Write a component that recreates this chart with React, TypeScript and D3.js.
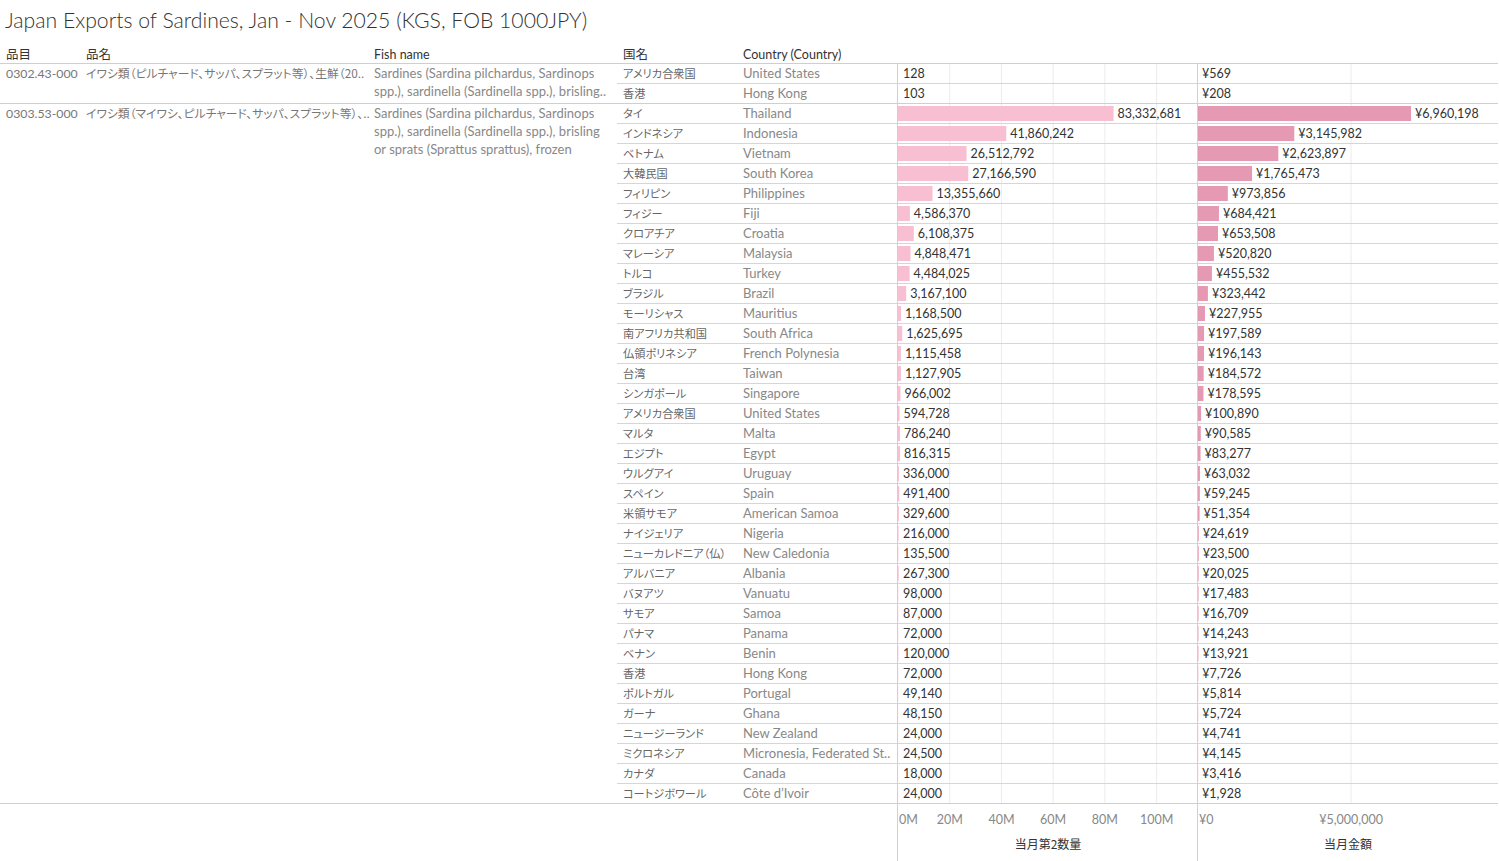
import React from "react";
import * as d3 from "d3";

const TITLE = "Japan Exports of Sardines, Jan - Nov 2025 (KGS, FOB 1000JPY)";
const HEADERS = ["品目", "品名", "Fish name", "国名", "Country (Country)"];

const hsCodes = ["0302.43-000", "0303.53-000"];
const productNames = [
  "イワシ類（ピルチャード、サッパ、スプラット等）、生鮮（20..",
  "イワシ類（マイワシ、ピルチャード、サッパ、スプラット等）、..",
];
const fishNames = [
  ["Sardines (Sardina pilchardus, Sardinops", "spp.), sardinella (Sardinella spp.), brisling.."],
  ["Sardines (Sardina pilchardus, Sardinops", "spp.), sardinella (Sardinella spp.), brisling", "or sprats (Sprattus sprattus), frozen"],
];
const groupSizes = [2, 35];

const countriesJa = [
  "アメリカ合衆国", "香港",
  "タイ", "インドネシア", "ベトナム", "大韓民国", "フィリピン", "フィジー", "クロアチア", "マレーシア", "トルコ", "ブラジル",
  "モーリシャス", "南アフリカ共和国", "仏領ポリネシア", "台湾", "シンガポール", "アメリカ合衆国", "マルタ", "エジプト", "ウルグアイ", "スペイン",
  "米領サモア", "ナイジェリア", "ニューカレドニア（仏）", "アルバニア", "バヌアツ", "サモア", "パナマ", "ベナン", "香港", "ポルトガル",
  "ガーナ", "ニュージーランド", "ミクロネシア", "カナダ", "コートジボワール",
];
const countriesEn = [
  "United States", "Hong Kong",
  "Thailand", "Indonesia", "Vietnam", "South Korea", "Philippines", "Fiji", "Croatia", "Malaysia", "Turkey", "Brazil",
  "Mauritius", "South Africa", "French Polynesia", "Taiwan", "Singapore", "United States", "Malta", "Egypt", "Uruguay", "Spain",
  "American Samoa", "Nigeria", "New Caledonia", "Albania", "Vanuatu", "Samoa", "Panama", "Benin", "Hong Kong", "Portugal",
  "Ghana", "New Zealand", "Micronesia, Federated St..", "Canada", "Côte d’Ivoir",
];
const quantities = [
  128, 103,
  83332681, 41860242, 26512792, 27166590, 13355660, 4586370, 6108375, 4848471, 4484025, 3167100,
  1168500, 1625695, 1115458, 1127905, 966002, 594728, 786240, 816315, 336000, 491400,
  329600, 216000, 135500, 267300, 98000, 87000, 72000, 120000, 72000, 49140,
  48150, 24000, 24500, 18000, 24000,
];
const values = [
  569, 208,
  6960198, 3145982, 2623897, 1765473, 973856, 684421, 653508, 520820, 455532, 323442,
  227955, 197589, 196143, 184572, 178595, 100890, 90585, 83277, 63032, 59245,
  51354, 24619, 23500, 20025, 17483, 16709, 14243, 13921, 7726, 5814,
  5724, 4741, 4145, 3416, 1928,
];
const qtyTicks = [0, 20e6, 40e6, 60e6, 80e6, 100e6];
const qtyTickLabels = ["0M", "20M", "40M", "60M", "80M", "100M"];
const valTicks = [0, 5e6];
const valTickLabels = ["¥0", "¥5,000,000"];
const axisTitles = ["当月第2数量", "当月金額"];

const FONT = "Lato, 'Noto Sans CJK JP', sans-serif";
const JFONT = "'Noto Sans CJK JP', Lato, sans-serif";

export default function App() {
  const W = 1499, H = 861;
  const top = 63, rowH = 20;
  const n = quantities.length;
  const y = d3.scaleBand<number>().domain(d3.range(n)).range([top, top + n * rowH]).padding(0);
  const bottom = top + n * rowH;
  const xq = d3.scaleLinear().domain([0, 116e6]).range([898, 1198]);
  const xv = d3.scaleLinear().domain([0, 9.8e6]).range([1198, 1498]);
  const fmt = d3.format(",");
  const groupStarts = groupSizes.map((_, i) => d3.sum(groupSizes.slice(0, i)));

  const palt: React.CSSProperties = { fontFeatureSettings: "'palt'" };

  return (
    <div style={{ position: "fixed", left: 0, top: 0, background: "#fff" }}>
      <svg width={W} height={H} style={{ display: "block" }}>
        <rect width={W} height={H} fill="#fff" />
        <text x={5} y={28} fontFamily={FONT} fontSize={21.2} fontWeight={300} fill="#333">{TITLE}</text>

        {/* headers */}
        {[6, 86, 374, 623, 743].map((x, i) => (
          <text key={i} x={x} y={59} fontFamily={i === 2 || i === 4 ? FONT : JFONT} fontSize={12.5} fill="#333" style={palt}>{HEADERS[i]}</text>
        ))}

        {/* gridlines */}
        {qtyTicks.slice(1).map((t, i) => (
          <line key={"gq" + i} x1={xq(t)} x2={xq(t)} y1={top} y2={bottom} stroke="#ececec" />
        ))}
        {valTicks.slice(1).map((t, i) => (
          <line key={"gv" + i} x1={xv(t)} x2={xv(t)} y1={top} y2={bottom} stroke="#ececec" />
        ))}

        {/* row lines */}
        {d3.range(n).map((i) => (
          <line key={"r" + i} x1={617} x2={1498} y1={(y(i) as number) + 0.5} y2={(y(i) as number) + 0.5} stroke="#d6d6d6" />
        ))}
        {groupStarts.map((s, i) => (
          <line key={"gs" + i} x1={0} x2={1498} y1={(y(s) as number) + 0.5} y2={(y(s) as number) + 0.5} stroke="#cfcfcf" />
        ))}
        <line x1={0} x2={1498} y1={bottom + 0.5} y2={bottom + 0.5} stroke="#cfcfcf" />

        {/* vertical separators */}
        <line x1={897.5} x2={897.5} y1={top} y2={H} stroke="#d0d0d0" />
        <line x1={1197.5} x2={1197.5} y1={top} y2={H} stroke="#d0d0d0" />

        {/* group texts */}
        {groupStarts.map((s, g) => (
          <g key={"g" + g}>
            <text x={6} y={(y(s) as number) + 15} fontFamily={FONT} fontSize={12.3} fill="#777">{hsCodes[g]}</text>
            <text x={86} y={(y(s) as number) + 14.5} fontFamily={JFONT} fontSize={11.8} fill="#777" style={palt}>{productNames[g]}</text>
            {fishNames[g].map((line, k) => (
              <text key={k} x={374} y={(y(s) as number) + 15 + k * 18} fontFamily={FONT} fontSize={13} fill="#888">{line}</text>
            ))}
          </g>
        ))}

        {/* rows */}
        {d3.range(n).map((i) => {
          const ry = y(i) as number;
          const qEnd = xq(quantities[i]);
          const vEnd = xv(values[i]);
          return (
            <g key={"row" + i}>
              <text x={623} y={ry + 14.5} fontFamily={JFONT} fontSize={11.2} fill="#666" style={palt}>{countriesJa[i]}</text>
              <text x={743} y={ry + 15} fontFamily={FONT} fontSize={13} fill="#888">{countriesEn[i]}</text>
              <rect x={xq(0)} y={ry + 3} width={Math.max(0, qEnd - xq(0))} height={15} fill="#f8bed2" />
              <rect x={xv(0)} y={ry + 3} width={Math.max(0, vEnd - xv(0))} height={15} fill="#e699b3" />
              <text x={Math.max(qEnd + 4, 903)} y={ry + 15} fontFamily={FONT} fontSize={12.5} fill="#333">{fmt(quantities[i])}</text>
              <text x={Math.max(vEnd + 4, 1202)} y={ry + 15} fontFamily={FONT} fontSize={12.5} fill="#333">{"¥" + fmt(values[i])}</text>
            </g>
          );
        })}

        {/* axes */}
        {qtyTicks.map((t, i) => (
          <text key={"tq" + i} x={i === 0 ? xq(t) + 1 : xq(t)} y={824} textAnchor={i === 0 ? "start" : "middle"} fontFamily={FONT} fontSize={12.5} fill="#888">{qtyTickLabels[i]}</text>
        ))}
        {valTicks.map((t, i) => (
          <text key={"tv" + i} x={i === 0 ? xv(t) + 1 : xv(t)} y={824} textAnchor={i === 0 ? "start" : "middle"} fontFamily={FONT} fontSize={12.5} fill="#888">{valTickLabels[i]}</text>
        ))}
        <text x={(xq.range()[0] + xq.range()[1]) / 2} y={849} textAnchor="middle" fontFamily={JFONT} fontSize={12} fill="#333">{axisTitles[0]}</text>
        <text x={(xv.range()[0] + xv.range()[1]) / 2} y={849} textAnchor="middle" fontFamily={JFONT} fontSize={12} fill="#333">{axisTitles[1]}</text>
      </svg>
    </div>
  );
}
